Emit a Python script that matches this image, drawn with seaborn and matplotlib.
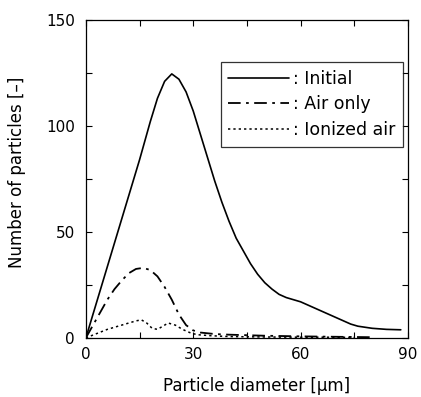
import numpy as np
import pandas as pd
import seaborn as sns
import matplotlib.pyplot as plt
from matplotlib.ticker import MultipleLocator

# values
x_initial = [0, 5, 10, 15, 18, 20, 22, 24, 26, 28, 30, 32, 34, 36, 38, 40, 42, 44, 46,
             48, 50, 52, 54, 56, 58, 60, 62, 64, 66, 68, 70, 72, 74, 76, 78, 80, 84, 88]
y_initial = [0, 28, 56, 84, 102, 113, 121, 124.5, 122, 116, 107, 96, 85, 74, 64, 55, 47,
             41, 35, 30, 26, 23, 20.5, 19, 18, 17, 15.5, 14, 12.5, 11, 9.5, 8, 6.5, 5.5,
             5, 4.5, 4, 3.8]

x_air = [0, 2, 4, 6, 8, 10, 12, 14, 16, 18, 20, 22, 24, 26, 28, 30, 32, 36, 40, 50,
         60, 70, 80]
y_air = [0, 6, 12, 18, 23, 27, 30.5, 32.5, 33, 32, 29, 24, 18, 11, 6, 3.5, 2.5, 1.8,
         1.5, 1, 0.7, 0.5, 0.3]

x_ion = [0, 3, 6, 9, 12, 14, 15.5, 17, 18.5, 20, 21.5, 23, 25, 27, 29, 31, 35, 40,
         50, 60, 70, 75]
y_ion = [0, 2, 4, 5.5, 7, 8, 8.5, 7, 4.5, 4, 5.5, 7, 6, 4, 2.5, 1.5, 1, 0.6, 0.4,
         0.3, 0.3, 0.2]

labels = [": Initial", ": Air only", ": Ionized air"]

sns.set_style("ticks")
plt.rcParams["font.family"] = ["DejaVu Sans"]
plt.rcParams["text.color"] = "black"
plt.rcParams["axes.labelcolor"] = "black"
plt.rcParams["xtick.color"] = "black"
plt.rcParams["ytick.color"] = "black"
plt.rcParams["xtick.direction"] = "in"
plt.rcParams["ytick.direction"] = "in"

fig = plt.figure(figsize=(4.21, 3.97), dpi=100)
ax = fig.add_axes([0.204, 0.149, 0.765, 0.801])

df1 = pd.DataFrame({"x": x_initial, "y": y_initial})
df2 = pd.DataFrame({"x": x_air, "y": y_air})
df3 = pd.DataFrame({"x": x_ion, "y": y_ion})

sns.lineplot(data=df1, x="x", y="y", ax=ax, color="black", lw=1.2,
             linestyle="-", label=labels[0])
sns.lineplot(data=df2, x="x", y="y", ax=ax, color="black", lw=1.3,
             dashes=(7, 3, 1.5, 3), label=labels[1])
sns.lineplot(data=df3, x="x", y="y", ax=ax, color="black", lw=1.1,
             dashes=(1.5, 2), label=labels[2])

ax.set_xlim(0, 90)
ax.set_ylim(0, 150)
ax.xaxis.set_major_locator(MultipleLocator(30))
ax.xaxis.set_minor_locator(MultipleLocator(15))
ax.yaxis.set_major_locator(MultipleLocator(50))
ax.yaxis.set_minor_locator(MultipleLocator(25))
ax.tick_params(which="both", top=True, right=True, direction="in",
               labelsize=11, width=0.8, length=4, colors="black")
ax.tick_params(axis="y", pad=8)
ax.tick_params(axis="x", pad=6.5)
for s in ax.spines.values():
    s.set_linewidth(0.9)
    s.set_color("black")

ax.set_xlabel("Particle diameter [µm]", fontsize=12)
ax.set_ylabel("Number of particles [–]", fontsize=12)
ax.xaxis.set_label_coords(0.53, -0.122)
ax.yaxis.set_label_coords(-0.186, 0.52)

leg = ax.legend(loc="upper right", bbox_to_anchor=(0.984, 0.868),
                frameon=True, fancybox=False, edgecolor="black",
                fontsize=12.5, handlelength=3.5, borderaxespad=0,
                handletextpad=0.2, labelspacing=0.45, borderpad=0.45)
leg.get_frame().set_linewidth(0.9)
for t in leg.get_texts():
    t.set_color("black")

fig.savefig("out.png", dpi=100)
